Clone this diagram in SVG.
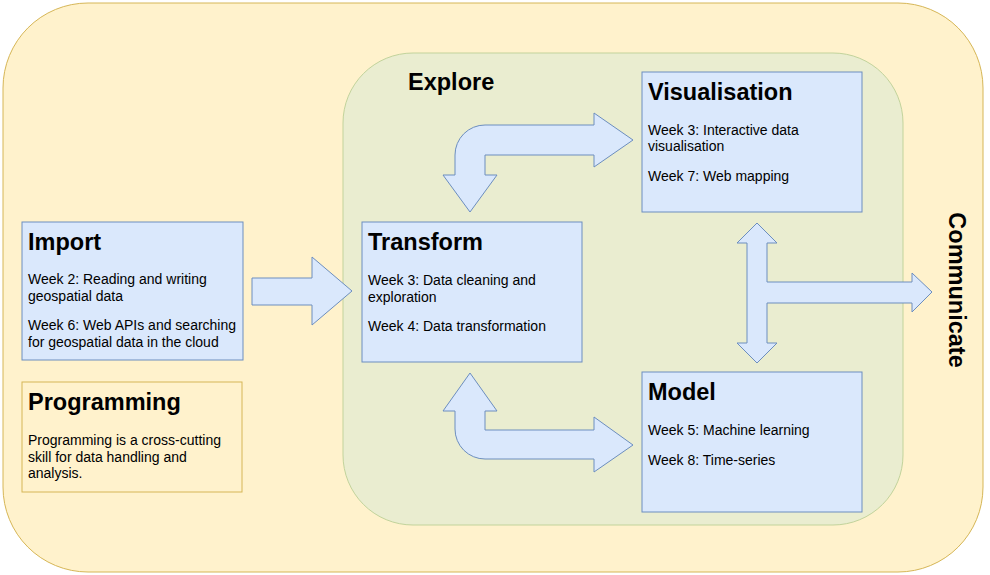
<svg xmlns="http://www.w3.org/2000/svg" width="990" height="575" viewBox="0 0 990 575">
<style>
.blue{fill:#dae8fc;stroke:#6c8ebf;stroke-width:1}
.yel{fill:#fff2cc;stroke:#d6b656;stroke-width:1}
.grn{fill:#eaedd0;stroke:#c2d39b;stroke-width:1}
.t{font-family:"Liberation Sans",Arial,sans-serif;font-weight:bold;font-size:23.5px;fill:#000}
.b{font-family:"Liberation Sans",Arial,sans-serif;font-size:14px;fill:#000}
</style>
<rect x="0" y="0" width="990" height="575" fill="#ffffff"/>
<g id="communicate">
<rect class="yel" x="3" y="3" width="980" height="569" rx="85" ry="85"/>
<text class="t" transform="translate(949,290) rotate(90)" text-anchor="middle">Communicate</text>
</g>
<g id="explore">
<rect class="grn" x="343" y="53" width="560" height="472" rx="70" ry="70"/>
<text class="t" x="408" y="90">Explore</text>
</g>
<g id="import">
<rect class="blue" x="22" y="222" width="221" height="138"/>
<text class="t" x="28" y="250">Import</text>
<text class="b" x="28" y="284">Week 2: Reading and writing</text>
<text class="b" x="28" y="301">geospatial data</text>
<text class="b" x="28" y="330">Week 6: Web APIs and searching</text>
<text class="b" x="28" y="347">for geospatial data in the cloud</text>
</g>
<g id="programming">
<rect class="yel" x="22" y="382" width="220" height="110"/>
<text class="t" x="28" y="410">Programming</text>
<text class="b" x="28" y="445">Programming is a cross-cutting</text>
<text class="b" x="28" y="462">skill for data handling and</text>
<text class="b" x="28" y="478">analysis.</text>
</g>
<g id="transform">
<rect class="blue" x="362" y="222" width="220" height="140"/>
<text class="t" x="368" y="250">Transform</text>
<text class="b" x="368" y="285">Week 3: Data cleaning and</text>
<text class="b" x="368" y="302">exploration</text>
<text class="b" x="368" y="331">Week 4: Data transformation</text>
</g>
<g id="visualisation">
<rect class="blue" x="642" y="72" width="220" height="140"/>
<text class="t" x="648" y="100">Visualisation</text>
<text class="b" x="648" y="135">Week 3: Interactive data</text>
<text class="b" x="648" y="151">visualisation</text>
<text class="b" x="648" y="181">Week 7: Web mapping</text>
</g>
<g id="model">
<rect class="blue" x="642" y="372" width="220" height="140"/>
<text class="t" x="648" y="400">Model</text>
<text class="b" x="648" y="435">Week 5: Machine learning</text>
<text class="b" x="648" y="465">Week 8: Time-series</text>
</g>
<g id="connectors">
<path class="blue" d="M252 278 L312 278 L312 257 L352 291 L312 325 L312 305 L252 305 Z"/>
<path class="blue" d="M594 125 L594 113 L633 140 L594 167 L594 155 L485 155 L485 175 L497 175 L470 212 L443 175 L455 175 L455 155 A30 30 0 0 1 485 125 Z"/>
<path class="blue" d="M470 373 L497 411 L485 411 L485 430 L594 430 L594 417 L633 445 L594 472 L594 459 L485 459 A30 30 0 0 1 455 429 L455 411 L443 411 Z"/>
<path class="blue" d="M757 223 L777 243 L767 243 L767 282 L912 282 L912 273 L932 292 L912 312 L912 303 L767 303 L767 343 L777 343 L757 363 L737 343 L747 343 L747 243 L737 243 Z"/>
</g>
</svg>
